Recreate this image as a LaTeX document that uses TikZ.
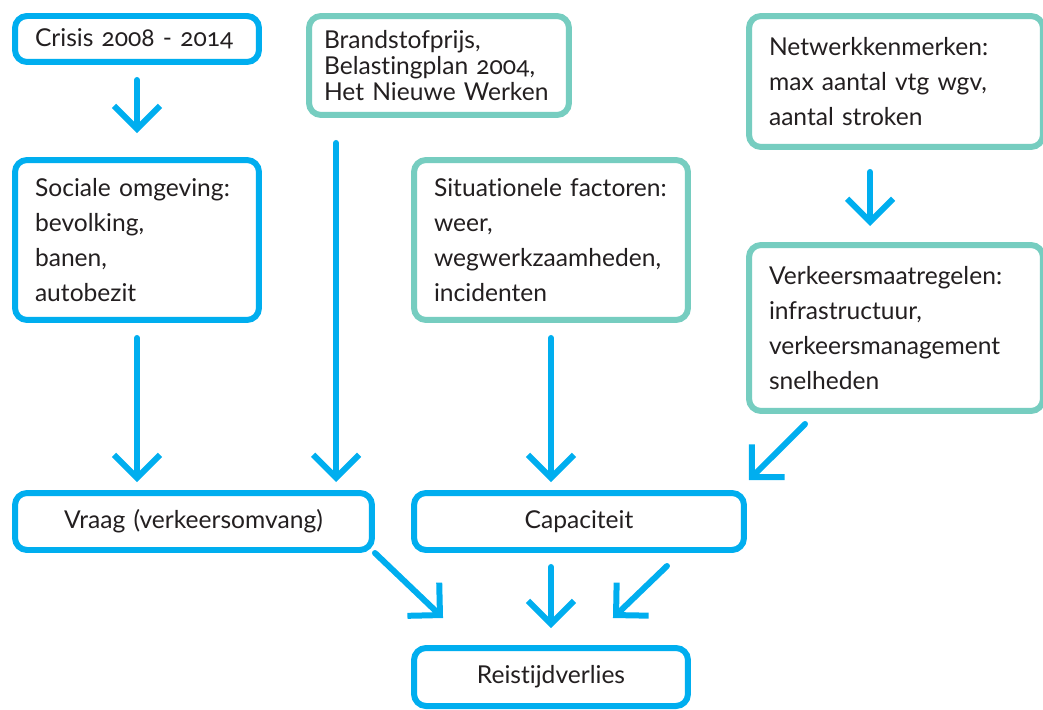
\documentclass[tikz,border=0pt]{standalone}
\usepackage{fontspec}
\setmainfont{Lato}[Numbers=OldStyle, Ligatures=CommonOff]
\usetikzlibrary{arrows.meta}
\definecolor{rwsblue}{RGB}{0,174,239}
\definecolor{rwsteal}{RGB}{118,205,192}
\definecolor{txtgray}{RGB}{35,31,32}
\tikzset{
  flowarrow/.style={-{Straight Barb[length=0.46cm, width=0.92cm]}, line width=0.12cm, draw=rwsblue, line cap=round},
  bluebox/.style={draw=rwsblue, line width=0.12cm, rounded corners=0.24cm, fill=white, inner xsep=0.4cm, inner ysep=0pt, align=left, text=txtgray},
  tealbox/.style={bluebox, draw=rwsteal},
  midbox/.style={bluebox, align=center}
}

\begin{document}
\begin{tikzpicture}[x=0.02cm, y=-0.02cm, every node/.style={font=\fontsize{14}{19.9}\selectfont}]
  \useasboundingbox (0,0) rectangle (1043,709);
  \clip (0,0) rectangle (1043,709);
  % top row
  \node[bluebox, text width=4.08cm, minimum height=0.92cm] (crisis) at (137,39) {Crisis 2008 - 2014};
  \node[tealbox, text width=4.6cm, inner xsep=0.3cm, minimum height=1.98cm, font=\fontsize{14}{14.8}\selectfont] (brandstof) at (439,65.5) {Brandstofprijs,\\ Belastingplan 2004,\\ Het Nieuwe Werken};
  \node[tealbox, text width=5.08cm, minimum height=2.62cm] (netwerk) at (896,81.5) {Netwerkkenmerken:\\ max aantal vtg wgv,\\ aantal stroken};
  % middle row
  \node[bluebox, text width=4.08cm, minimum height=3.2cm] (sociale) at (137,240) {Sociale omgeving:\\ bevolking,\\ banen,\\ autobezit};
  \node[tealbox, text width=4.68cm, minimum height=3.2cm] (situationele) at (551,240) {Situationele factoren:\\ weer,\\ wegwerkzaamheden,\\ incidenten};
  \node[tealbox, text width=5.08cm, minimum height=3.32cm] (verkeers) at (896,328) {Verkeersmaatregelen:\\ infrastructuur,\\ verkeersmanagement\\ snelheden};
  % bottom rows
  \node[midbox, text width=6.34cm, minimum height=1.14cm] (vraag) at (193.5,521.5) {Vraag (verkeersomvang)};
  \node[midbox, text width=5.8cm, minimum height=1.14cm] (capaciteit) at (579,521.5) {Capaciteit};
  \node[midbox, text width=4.68cm, minimum height=1.16cm] (reistijd) at (551,677) {Reistijdverlies};
  % arrows
  \draw[flowarrow, shorten <=0.3cm, shorten >=0.48cm] (crisis.south) -- (sociale.north);
  \draw[flowarrow, shorten <=0.3cm, shorten >=0.16cm] (sociale.south) -- (sociale.south |- vraag.north);
  \draw[flowarrow, shorten <=0.5cm, shorten >=0.16cm] ([shift={(30,0)}]brandstof.south west) -- ([shift={(30,0)}]brandstof.south west |- vraag.north);
  \draw[flowarrow, shorten <=0.3cm, shorten >=0.16cm] (situationele.south) -- (situationele.south |- capaciteit.north);
  \draw[flowarrow, shorten <=0.44cm, shorten >=0.32cm] ([shift={(124,0)}]netwerk.south west) -- ([shift={(124,0)}]netwerk.south west |- verkeers.north);
  \draw[flowarrow] ([shift={(59,10)}]verkeers.south west) -- ([shift={(2,-10)}]capaciteit.north east);
  \draw[flowarrow] (vraag.south east) -- ([shift={(32,-27)}]reistijd.north west);
  \draw[flowarrow, shorten <=0.28cm, shorten >=0.34cm] (reistijd.north |- capaciteit.south) -- (reistijd.north);
  \draw[flowarrow] ([shift={(-80,13)}]capaciteit.south east) -- ([shift={(-78,-27)}]reistijd.north east);
\end{tikzpicture}
\end{document}
